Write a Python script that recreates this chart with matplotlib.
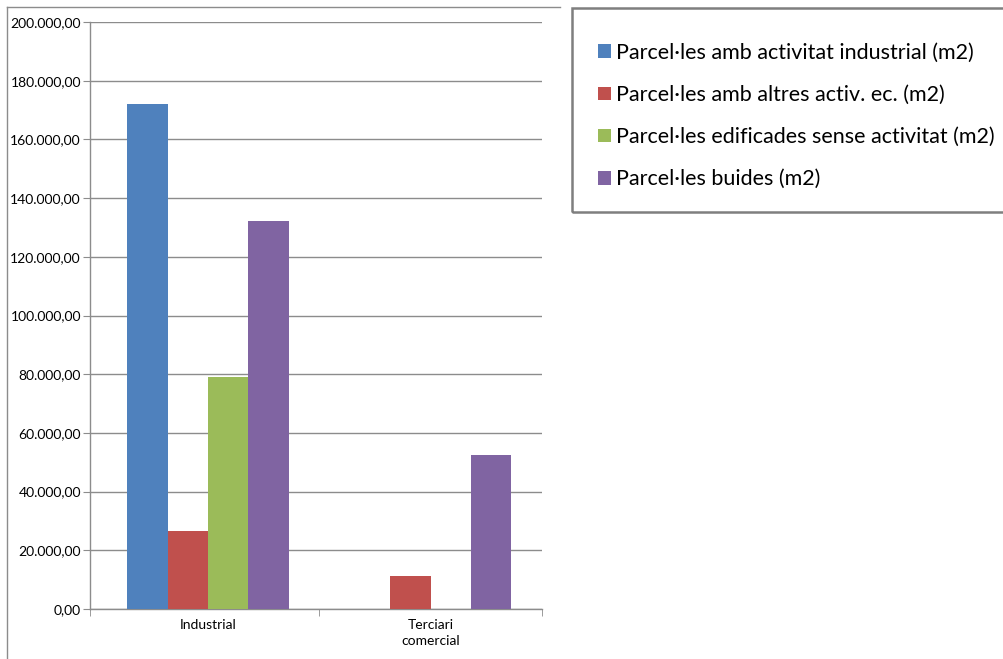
import matplotlib.pyplot as plt
from matplotlib.patches import Rectangle
from matplotlib.ticker import FuncFormatter
import numpy as np

categories = ['Industrial', 'Terciari\ncomercial']
series_names = [
    'Parcel·les amb activitat industrial (m2)',
    'Parcel·les amb altres activ. ec. (m2)',
    'Parcel·les edificades sense activitat (m2)',
    'Parcel·les buides (m2)',
]
activitat_industrial = [172000, 0]
altres_activitats = [26600, 11300]
edificades_sense = [79000, 0]
buides = [132200, 52400]
colors = ['#4F81BD', '#C0504D', '#9BBB59', '#8064A2']

plt.rcParams['font.family'] = ['Lato', 'DejaVu Sans']

fig = plt.figure(figsize=(10.04, 6.59), dpi=100)
ax = fig.add_axes([90 / 1004, 1 - 609 / 659, 452 / 1004, 587 / 659])

x = np.arange(len(categories))
w = 0.181
series = [activitat_industrial, altres_activitats, edificades_sense, buides]
handles = []
for i, (vals, c) in enumerate(zip(series, colors)):
    b = ax.bar(x + (i - 1.5) * w, vals, w, color=c, zorder=3)
    handles.append(b)

ax.set_ylim(0, 200000)
ax.set_yticks(np.arange(0, 200001, 20000))
ax.yaxis.set_major_formatter(FuncFormatter(
    lambda v, p: f'{v:,.2f}'.replace(',', 'X').replace('.', ',').replace('X', '.')))
ax.grid(axis='y', color='#8c8c8c', linewidth=1, zorder=0)

ax.set_xlim(-0.53, 1.5)
ax.set_xticks(x)
ax.set_xticklabels(categories, fontsize=10, linespacing=1.45)
ax.set_xticks([-0.53, 0.5, 1.5], minor=True)
ax.tick_params(axis='x', which='major', length=0, pad=7)
ax.tick_params(axis='x', which='minor', length=5, color='#8c8c8c', direction='out')
ax.tick_params(axis='y', length=5, color='#8c8c8c', labelsize=10, pad=1.5)

for s in ['top', 'right']:
    ax.spines[s].set_visible(False)
for s in ['left', 'bottom']:
    ax.spines[s].set_color('#8c8c8c')
    ax.spines[s].set_linewidth(1)

# chart area border (left and top)
fig.add_artist(plt.Line2D([7 / 1004, 7 / 1004], [0, 1 - 7 / 659],
                          color='#8c8c8c', linewidth=1))
fig.add_artist(plt.Line2D([7 / 1004, 560 / 1004], [1 - 7 / 659, 1 - 7 / 659],
                          color='#8c8c8c', linewidth=1))

# legend box
fig.add_artist(Rectangle((572 / 1004, 1 - 212 / 659), 440 / 1004, 204 / 659,
                         transform=fig.transFigure, fill=False,
                         edgecolor='#7f7f7f', linewidth=1.8))
leg = fig.legend(handles, series_names, loc='upper left',
                 bbox_to_anchor=(587 / 1004, 1 - 32 / 659),
                 frameon=False, fontsize=15.5, handlelength=0.6, handleheight=0.6,
                 handletextpad=0.25, labelspacing=1.03, borderpad=0)

fig.savefig('out.png', dpi=100)
